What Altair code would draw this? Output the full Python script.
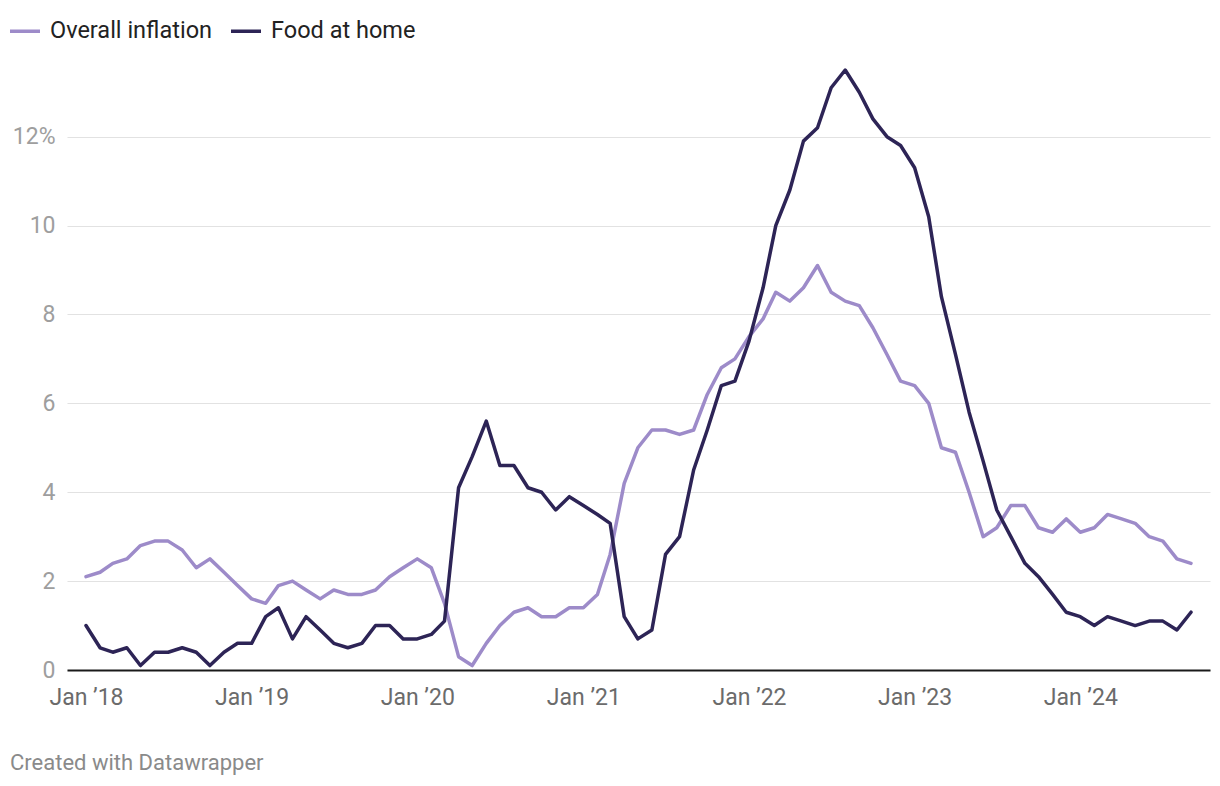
import altair as alt
import pandas as pd

months = pd.date_range("2018-01-01", "2024-09-01", freq="MS").strftime("%Y-%m-%d").tolist()

overall = [
    2.1, 2.2, 2.4, 2.5, 2.8, 2.9, 2.9, 2.7, 2.3, 2.5, 2.2, 1.9,
    1.6, 1.5, 1.9, 2.0, 1.8, 1.6, 1.8, 1.7, 1.7, 1.8, 2.1, 2.3,
    2.5, 2.3, 1.5, 0.3, 0.1, 0.6, 1.0, 1.3, 1.4, 1.2, 1.2, 1.4,
    1.4, 1.7, 2.6, 4.2, 5.0, 5.4, 5.4, 5.3, 5.4, 6.2, 6.8, 7.0,
    7.5, 7.9, 8.5, 8.3, 8.6, 9.1, 8.5, 8.3, 8.2, 7.7, 7.1, 6.5,
    6.4, 6.0, 5.0, 4.9, 4.0, 3.0, 3.2, 3.7, 3.7, 3.2, 3.1, 3.4,
    3.1, 3.2, 3.5, 3.4, 3.3, 3.0, 2.9, 2.5, 2.4,
]

food = [
    1.0, 0.5, 0.4, 0.5, 0.1, 0.4, 0.4, 0.5, 0.4, 0.1, 0.4, 0.6,
    0.6, 1.2, 1.4, 0.7, 1.2, 0.9, 0.6, 0.5, 0.6, 1.0, 1.0, 0.7,
    0.7, 0.8, 1.1, 4.1, 4.8, 5.6, 4.6, 4.6, 4.1, 4.0, 3.6, 3.9,
    3.7, 3.5, 3.3, 1.2, 0.7, 0.9, 2.6, 3.0, 4.5, 5.4, 6.4, 6.5,
    7.4, 8.6, 10.0, 10.8, 11.9, 12.2, 13.1, 13.5, 13.0, 12.4, 12.0, 11.8,
    11.3, 10.2, 8.4, 7.1, 5.8, 4.7, 3.6, 3.0, 2.4, 2.1, 1.7, 1.3,
    1.2, 1.0, 1.2, 1.1, 1.0, 1.1, 1.1, 0.9, 1.3,
]

series_names = ["Overall inflation", "Food at home"]
series_colors = ["#9d8bc9", "#2d2456"]
y_ticks = [0, 2, 4, 6, 8, 10, 12]

df = pd.DataFrame({
    "date": months + months,
    "value": overall + food,
    "series": [series_names[0]] * len(overall) + [series_names[1]] * len(food),
})

FONT = "Roboto"

chart = alt.Chart(
    df,
    title=alt.TitleParams(
        "Created with Datawrapper",
        orient="bottom",
        anchor="start",
        font=FONT,
        fontSize=22,
        fontWeight="normal",
        color="#8a8a8a",
        dx=2,
        offset=44,
    ),
).mark_line(strokeWidth=3.5, strokeJoin="round", strokeCap="round").encode(
    x=alt.X(
        "date:T",
        scale=alt.Scale(type="utc", padding=19, nice=False),
        axis=alt.Axis(
            format="%b ’%y",
            tickCount={"interval": "year", "step": 1},
            title=None,
            grid=False,
            ticks=False,
            domainColor="#1a1a1a",
            domainWidth=2,
            labelColor="#6b6b6b",
            labelFontSize=23,
            labelFont=FONT,
            labelPadding=16,
            labelFlush=False,
            zindex=1,
        ),
    ),
    y=alt.Y(
        "value:Q",
        scale=alt.Scale(domain=[0, 13.5], nice=False),
        axis=alt.Axis(
            values=y_ticks,
            labelExpr="datum.value == 12 ? '12%' : datum.label",
            title=None,
            domain=False,
            ticks=False,
            gridColor="#e2e2e2",
            gridWidth=1.2,
            labelColor="#9e9e9e",
            labelFontSize=23,
            labelFont=FONT,
            labelPadding=12,
        ),
    ),
    color=alt.Color(
        "series:N",
        scale=alt.Scale(domain=series_names, range=series_colors),
        legend=alt.Legend(
            orient="none",
            legendX=-59,
            legendY=-56,
            direction="horizontal",
            title=None,
            symbolType="stroke",
            symbolSize=900,
            symbolStrokeWidth=3.5,
            labelFontSize=23.5,
            labelFont=FONT,
            labelColor="#222222",
            labelOffset=8,
            labelLimit=400,
            columnPadding=11,
        ),
    ),
    order=alt.Order("date:T"),
).properties(
    width=1143,
    height=600,
    background="white",
    autosize=alt.AutoSizeParams(type="none"),
    padding={"left": 59, "top": 62, "right": 2, "bottom": 106},
).configure_view(stroke="transparent", strokeWidth=0)

chart.save("out.html", embed_options={"renderer": "svg", "actions": False})
